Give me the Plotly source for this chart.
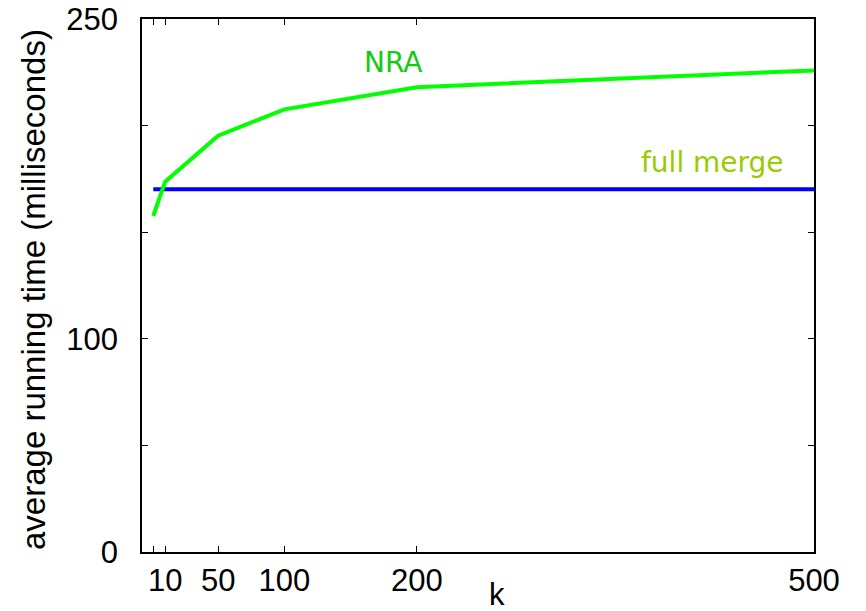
import plotly.graph_objects as go

k_values = [1, 10, 50, 100, 200, 500]
nra_ms = [157.6, 173.7, 195.3, 207.6, 218.0, 225.9]
full_merge_ms = [170.1, 170.1, 170.1, 170.1, 170.1, 170.1]

x_tick_vals = [1, 10, 50, 100, 200, 500]
x_tick_text = ["", "10", "50", "100", "200", "500"]
y_tick_vals = [0, 50, 100, 150, 200, 250]
y_tick_text = ["0", "", "100", "", "", "250"]

FONT = "Liberation Sans, Arial, sans-serif"
W, H = 866, 611
l, r, t, b = 142, 52, 19, 59
pw, ph = W - l - r, H - t - b
def px(x): return (x - l) / pw
def py(y): return (H - b - y) / ph

fig = go.Figure()
fig.add_trace(go.Scatter(x=k_values, y=full_merge_ms, mode="lines",
                         line=dict(color="#0000ff", width=4), showlegend=False))
fig.add_trace(go.Scatter(x=k_values, y=nra_ms, mode="lines",
                         line=dict(color="#00ff00", width=4), showlegend=False))

fig.update_layout(
    width=W, height=H,
    margin=dict(l=l, r=r, t=t, b=b, autoexpand=False),
    plot_bgcolor="white", paper_bgcolor="white",
    font=dict(family=FONT, size=31, color="black"),
    xaxis=dict(range=[-7.5, 500], tickvals=x_tick_vals, ticktext=x_tick_text,
               ticks="inside", ticklen=6, tickwidth=1, tickcolor="black",
               showline=True, linecolor="black", linewidth=1.5, mirror="ticks",
               showgrid=False, zeroline=False, ticklabelstandoff=0, automargin=False),
    yaxis=dict(range=[0, 250], tickvals=y_tick_vals, ticktext=y_tick_text,
               ticks="inside", ticklen=6, tickwidth=1, tickcolor="black",
               showline=True, linecolor="black", linewidth=1.5, mirror="ticks",
               showgrid=False, zeroline=False, ticklabelstandoff=16, automargin=False),
)

def ann(text, x, y, font, angle=0):
    fig.add_annotation(text=text, x=px(x), y=py(y), xref="paper", yref="paper",
                       xanchor="center", yanchor="middle", showarrow=False,
                       textangle=angle, font=font)

ann("NRA", 393, 62, dict(family="DejaVu Sans", size=28, color="#11cc11"))
ann("full merge", 712, 163, dict(family="DejaVu Sans", size=28, color="#99cc00"))
ann("k", 497, 594, dict(family=FONT, size=31, color="black"))
ann("average running time (milliseconds)", 33, 290, dict(family=FONT, size=33, color="black"), -90)

fig.write_html("out.html")
